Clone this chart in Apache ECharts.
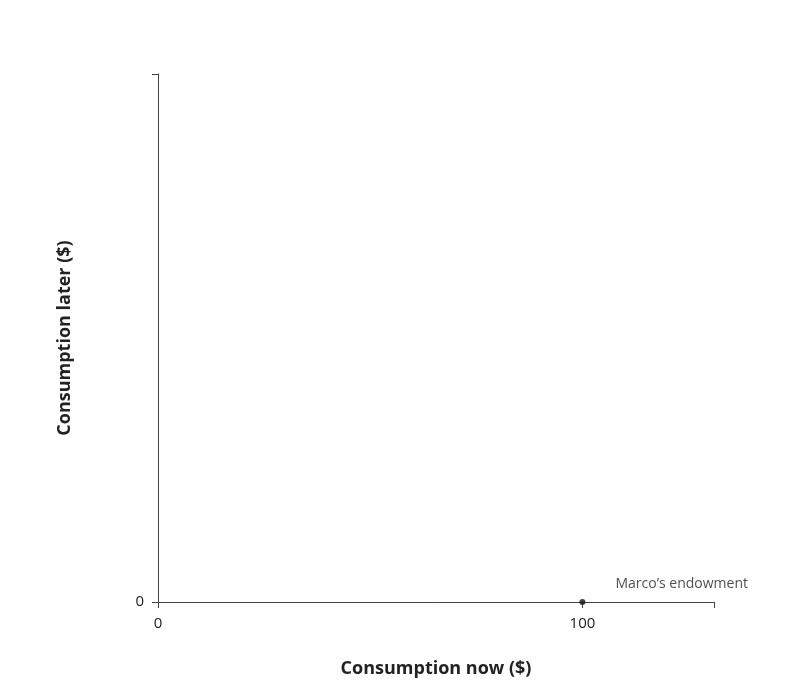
<!DOCTYPE html>
<html><head><meta charset="utf-8">
<script src="https://cdn.jsdelivr.net/npm/echarts@6/dist/echarts.min.js"></script>
<style>html,body{margin:0;padding:0;background:#fff}#c{width:810px;height:692px}</style>
</head><body><div id="c"></div>
<script>
const xTicks = [0, 100, 131];
const xLabels = [0, 100];
const yTicks = [0, 100];
const yLabels = [0];
const endowment = [[100, 0]];
const endowmentLabel = "Marco’s endowment";
const font = "Open Sans";
const chart = echarts.init(document.getElementById('c'));
chart.setOption({
  animation: false,
  grid: {left: 158, right: 96, top: 74, bottom: 90},
  xAxis: {
    type: 'value', min: 0, max: 131,
    name: 'Consumption now ($)', nameLocation: 'middle', nameGap: 58,
    nameTextStyle: {fontFamily: font, fontSize: 18, fontWeight: 'bold', color: '#222'},
    axisLine: {lineStyle: {color: '#444'}},
    axisTick: {show: true, customValues: xTicks, length: 6, inside: false, lineStyle: {color: '#444'}},
    axisLabel: {customValues: xLabels, fontFamily: font, fontSize: 15, color: '#222', margin: 14},
    splitLine: {show: false}
  },
  yAxis: {
    type: 'value', min: 0, max: 100,
    name: 'Consumption later ($)', nameLocation: 'middle', nameGap: 84, nameRotate: 90,
    nameTextStyle: {fontFamily: font, fontSize: 18, fontWeight: 'bold', color: '#222'},
    axisLine: {show: true, lineStyle: {color: '#444'}},
    axisTick: {show: true, customValues: yTicks, length: 6, lineStyle: {color: '#444'}},
    axisLabel: {customValues: yLabels, fontFamily: font, fontSize: 15, color: '#222', margin: 14},
    splitLine: {show: false}
  },
  series: [{
    type: 'scatter', data: endowment, symbolSize: 6,
    itemStyle: {color: '#111'},
    label: {show: true, position: [36, -22], formatter: endowmentLabel,
      fontFamily: font, fontSize: 14, color: '#222'}
  }]
});
</script></body></html>
